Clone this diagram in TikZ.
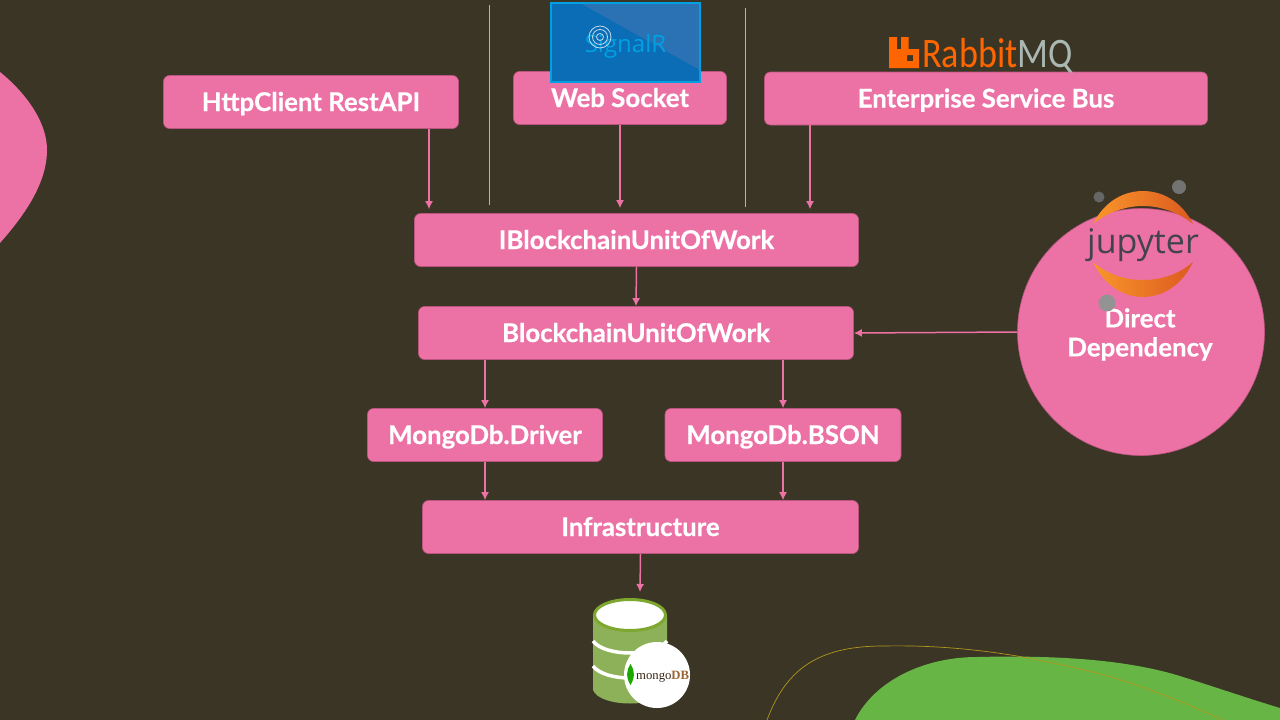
\documentclass[tikz,border=0pt]{standalone}
\usepackage{fontspec}
\setmainfont{Lato}[BoldFeatures={FakeBold=0.6}]
\newfontfamily\logofont{Open Sans}
\newfontfamily\rabbitfont[FakeStretch=0.86]{Carlito}
\newfontfamily\dbfont{Liberation Serif}
\usetikzlibrary{arrows.meta}
\definecolor{slidebg}{HTML}{3B3525}
\definecolor{boxpink}{HTML}{EC72A6}
\definecolor{boxedge}{HTML}{B9557F}
\definecolor{blobgreen}{HTML}{67B645}
\definecolor{sigblue}{HTML}{0A6DB5}
\definecolor{sigpale}{HTML}{2A72B3}
\definecolor{sigedge}{HTML}{00A0E3}
\definecolor{rabbit}{HTML}{FF6600}
\definecolor{rabbitgrey}{HTML}{A9B8B2}
\definecolor{jupleft}{HTML}{F9962A}
\definecolor{jupright}{HTML}{DC5A20}
\definecolor{jupgrey}{HTML}{434350}
\definecolor{dbgreen}{HTML}{8DB158}
\definecolor{dbrim}{HTML}{7EA72F}
\tikzset{
  unitbox/.style n args={2}{draw=boxedge, fill=boxpink, rounded corners=6pt, line width=0.6pt,
    minimum width=#1, minimum height=#2, inner sep=0pt, text=white, text height=24pt, text depth=6pt,
    font=\fontsize{25.8}{30}\selectfont\bfseries},
  link/.style={draw=boxpink, line width=1.5pt, -{Latex[length=8pt,width=8pt]}},
  rule/.style={draw=boxpink!45!white!85!black, line width=0.6pt},
  jupiter/.style={left color=jupleft, right color=jupright}
}
\begin{document}
\begin{tikzpicture}[x=1pt,y=-1pt]
  \useasboundingbox (0,0) rectangle (1280,720);
  \fill[slidebg] (0,0) rectangle (1280,720);
  \clip (0,0) rectangle (1280,720);
  % background blobs
  \fill[boxpink] (0,72) .. controls (20,88) and (47,118) .. (47,150)
    .. controls (47,185) and (22,218) .. (0,243) -- cycle;
  \fill[blobgreen] (855,720) .. controls (875,680) and (925,657) .. (977,657)
    .. controls (1060,655) and (1130,660) .. (1183,677)
    .. controls (1215,687) and (1250,699) .. (1280,708) -- (1280,720) -- cycle;
  \draw[draw=dbrim!60!orange, line width=0.7pt] (767,720) .. controls (785,672) and (815,646) .. (883,646)
    .. controls (930,645) and (975,649) .. (1017,656)
    .. controls (1090,670) and (1130,678) .. (1223,720);
  % separators
  \draw[rule] (489.5,5) -- (489.5,205);
  \draw[rule] (745,8) -- (745,207);
  % boxes
  \node[unitbox={295pt}{53pt}] (http) at (311,102) {HttpClient RestAPI};
  \node[unitbox={213pt}{53pt}] (socket) at (620,98) {Web Socket};
  \node[unitbox={443pt}{53pt}] (bus) at (986,98.5) {Enterprise Service Bus};
  \node[unitbox={444pt}{53pt}] (iuow) at (636.5,240) {IBlockchainUnitOfWork};
  \node[unitbox={435pt}{53pt}] (uow) at (636,333) {BlockchainUnitOfWork};
  \node[unitbox={235pt}{53pt}] (driver) at (485,435) {MongoDb.Driver};
  \node[unitbox={236pt}{53pt}] (bson) at (783,435) {MongoDb.BSON};
  \node[unitbox={436pt}{53pt}] (infra) at (640.5,527) {Infrastructure};
  \node[circle, draw=boxedge, fill=boxpink, line width=0.6pt, minimum size=247pt, inner sep=0pt] (dep) at (1141,332) {};
  \node[align=center, text=white, font=\fontsize{25.8}{29}\selectfont\bfseries] (deptext) at (1140,334.5) {Direct\\Dependency};
  \coordinate (dbtop) at (640,592);
  % connectors
  \draw[link, shorten >=4pt] ([xshift=118pt]http.south) -- ([xshift=-207.5pt]iuow.north);
  \draw[link, shorten >=5pt] (socket.south) -- ([xshift=-16.5pt]iuow.north);
  \draw[link, shorten >=4pt] ([xshift=-176pt]bus.south) -- ([xshift=173.5pt]iuow.north);
  \draw[link] (iuow.south) -- (uow.north);
  \draw[link] (dep.west) -- (uow.east);
  \draw[link] (driver.north |- uow.south) -- (driver.north);
  \draw[link] (bson.north |- uow.south) -- (bson.north);
  \draw[link] (driver.south) -- (driver.south |- infra.north);
  \draw[link] (bson.south) -- (bson.south |- infra.north);
  \draw[link] (infra.south) -- (dbtop);
  % signalr logo
  \fill[sigblue] (550,2) rectangle (701,83);
  \fill[sigpale] (580,3) -- (700,3) -- (700,70) -- cycle;
  \draw[sigedge, line width=2.5pt] (551.2,3.2) rectangle (699.8,81.8);
  \node[text=sigedge, font=\fontsize{24}{28}\logofont] (signalr) at (625.5,46) {SignalR};
  \foreach \r in {3.5,7.5,11} \draw[white!75!sigblue, line width=0.8pt] (600,37) circle (\r);
  % rabbitmq logo
  \fill[rabbit, even odd rule] (889,37) -- (897,37) -- (897,49) -- (901,49) -- (901,37) -- (908.5,37) -- (908.5,49)
    -- (919,49) -- (919,68) -- (889,68) -- cycle (907,55) rectangle (913,61);
  \node[anchor=base west, inner sep=0pt, text=rabbit, font=\fontsize{42}{44}\rabbitfont] (rabbittext) at (922,67) {Rabbit\textcolor{rabbitgrey}{MQ}};
  % jupyter logo
  \path[jupiter]
    (1093,224) .. controls (1105,200) and (1125,191) .. (1143,191)
    .. controls (1161,191) and (1181,200) .. (1193,224)
    .. controls (1178,212) and (1160,206) .. (1143,206)
    .. controls (1126,206) and (1108,212) .. (1093,224) -- cycle;
  \path[jupiter]
    (1093,262) .. controls (1105,287) and (1125,297) .. (1143,297)
    .. controls (1161,297) and (1181,287) .. (1193,262)
    .. controls (1178,275) and (1160,280) .. (1143,280)
    .. controls (1126,280) and (1108,275) .. (1093,262) -- cycle;
  \node[text=jupgrey, font=\fontsize{34}{36}\logofont] (jupyter) at (1143,245) {jupyter};
  \fill[gray!80!black] (1099,197) circle (5.5);
  \fill[gray!90!black] (1179,187) circle (7);
  \fill[gray!85!white] (1107,303) circle (8.5);
  % mongodb logo
  \fill[dbgreen] (593,615) -- (593,690) .. controls (600,708) and (660,708) .. (667,690) -- (667,615) -- cycle;
  \draw[white, line width=3.5pt] (593,641) .. controls (605,657) and (655,657) .. (667,641);
  \draw[white, line width=3.5pt] (593,666) .. controls (605,682) and (655,682) .. (667,666);
  \fill[white, draw=dbrim, line width=3pt] (630,615) ellipse (35.5 and 15.5);
  \node[circle, fill=white, minimum size=66pt, inner sep=0pt] (mongo) at (657,675) {};
  \fill[green!60!black!85!lime] (630.5,664) .. controls (626,670) and (626,678) .. (630.5,685)
    .. controls (635,678) and (635,670) .. (630.5,664) -- cycle;
  \node[anchor=base west, inner sep=0pt, text=black!70!brown, font=\fontsize{12.7}{16}\dbfont] (mongotext) at (636,679) {mongo\textcolor{brown!80!black}{\textbf{DB}}};
\end{tikzpicture}
\end{document}
